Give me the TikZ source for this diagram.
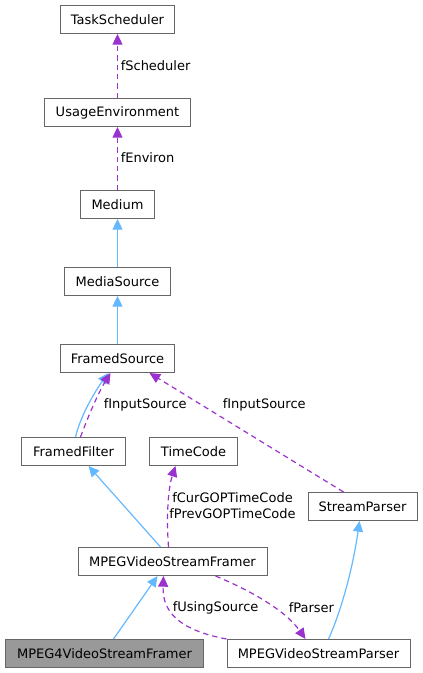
\documentclass[tikz,border=0pt]{standalone}
\usepackage{fontspec}
\setmainfont{DejaVu Sans}
\usetikzlibrary{arrows.meta}

\definecolor{edgeblue}{HTML}{63B8FF}
\definecolor{edgepurple}{HTML}{9A32CD}
\definecolor{boxline}{HTML}{666666}
\definecolor{boxfill}{HTML}{999999}

\begin{document}
\begin{tikzpicture}[x=0.75pt, y=-0.75pt, shift={(0.5,0.5)},
        cls/.style={draw=boxline, line width=0.75pt, fill=white, minimum height=21pt, inner sep=0pt, font=\fontsize{9.75}{12}\selectfont},
        inh/.style={edgeblue, line width=0.9pt, -{Triangle[length=8pt,width=7.5pt]}},
        use/.style={edgepurple, line width=0.9pt, dash pattern=on 4pt off 3pt, -{Triangle[length=8pt,width=7.5pt]}},
        lbl/.style={font=\fontsize{9.75}{12}\selectfont, inner sep=0pt, anchor=west}]
            \useasboundingbox (-0.5,-0.5) rectangle (421.5,672.5);

            \node[cls, minimum width=85.5pt]  (tsched) at (117,19)  {TaskScheduler};
            \node[cls, minimum width=109.5pt] (uenv)   at (117,112) {UsageEnvironment};
            \node[cls, minimum width=55.5pt]  (medium) at (117,204) {Medium};
            \node[cls, minimum width=79.5pt]  (msrc)   at (117,281) {MediaSource};
            \node[cls, minimum width=85.5pt]  (fsrc)   at (117,358) {FramedSource};
            \node[cls, minimum width=78pt]    (ffilt)  at (73,451)  {FramedFilter};
            \node[cls, minimum width=66pt]    (tcode)  at (193,451) {TimeCode};
            \node[cls, minimum width=81.75pt] (sparse) at (362,506) {StreamParser};
            \node[cls, minimum width=141.75pt] (mvsf)  at (172,561) {MPEGVideoStreamFramer};
            \node[cls, minimum width=148.5pt, fill=boxfill] (m4vsf) at (104,653) {MPEG4VideoStreamFramer};
            \node[cls, minimum width=137.25pt] (mvsp)  at (318,653) {MPEGVideoStreamParser};

            \draw[use] (uenv.north) -- (tsched.south);
            \draw[use] (medium.north) -- (uenv.south);
            \draw[inh] (msrc.north) -- (medium.south);
            \draw[inh] (fsrc.north) -- (msrc.south);

            \draw[inh] ([xshift=1.5pt]ffilt.north) .. controls (80,415) and (95,390) .. ([xshift=-6.75pt]fsrc.south);
            \draw[use] ([xshift=5.25pt]ffilt.north) .. controls (88,415) and (98,392) .. ([xshift=-5.25pt]fsrc.south);
            \draw[use] ([xshift=-14.25pt]sparse.north) -- ([xshift=24pt]fsrc.south);

            \draw[inh] ([xshift=-9pt]mvsf.north) -- ([xshift=11.25pt]ffilt.south);
            \draw[use] ([xshift=-3pt]mvsf.north) .. controls (166,520) and (167,490) .. ([xshift=-13.5pt]tcode.south);
            \draw[inh] ([xshift=7.5pt]mvsp.north) .. controls (340,612) and (352,570) .. ([xshift=-2.25pt]sparse.south);
            \draw[inh] ([xshift=6.75pt]m4vsf.north) -- ([xshift=-11.25pt]mvsf.south);
            \draw[use] (mvsp.north west) .. controls (170,628) and (162,605) .. ([xshift=-6.75pt]mvsf.south);
            \draw[use] ([xshift=32.25pt]mvsf.south) .. controls (250,590) and (285,610) .. ([xshift=-9.75pt]mvsp.north);

            \node[lbl] (lsched) at (120,65)  {fScheduler};
            \node[lbl] (lenv)   at (120,157) {fEnviron};
            \node[lbl] (lin1)   at (103,404) {fInputSource};
            \node[lbl] (lin2)   at (222,404) {fInputSource};
            \node[lbl, anchor=center, align=center] (ltime) at (232,505.5) {fCurGOPTimeCode\\fPrevGOPTimeCode};
            \node[lbl] (lusing) at (172,607) {fUsingSource};
            \node[lbl] (lparse) at (288,607) {fParser};
        \end{tikzpicture}
\end{document}
